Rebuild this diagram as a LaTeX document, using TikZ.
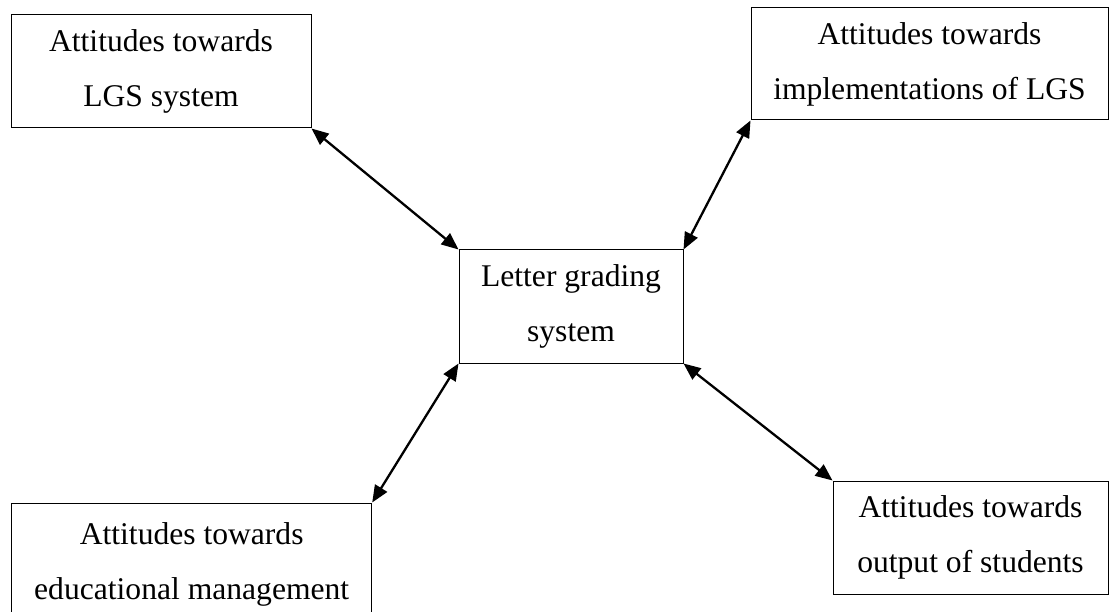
\documentclass[tikz,border=0pt]{standalone}
\usepackage{fontspec}
\setmainfont{Liberation Serif}
\usetikzlibrary{arrows.meta}
\tikzset{
  boxnode/.style={draw=black, line width=1pt, rectangle, inner sep=0pt, align=center,
    font=\fontsize{31.6}{55}\selectfont},
  link/.style={line width=2.3pt, {Triangle[length=17pt,width=14pt]}-{Triangle[length=17pt,width=14pt]}}
}
\begin{document}
\begin{tikzpicture}[x=1pt,y=-1pt]
\useasboundingbox (0,0) rectangle (1110,612);
\node[boxnode, minimum width=300pt, minimum height=113pt] (tl) at (161,71.5) {Attitudes towards\\LGS system};
\node[boxnode, minimum width=357pt, minimum height=112pt] (tr) at (929.5,64) {Attitudes towards\\implementations of LGS};
\node[boxnode, minimum width=224pt, minimum height=113pt] (c) at (571,306.5) {Letter grading\\system};
\node[boxnode, minimum width=360pt, minimum height=122pt] (bl) at (191.7,564) {Attitudes towards\\educational management};
\node[boxnode, minimum width=275pt, minimum height=113pt] (br) at (970.5,537.5) {Attitudes towards\\output of students};
\draw[link] (tl.south east) -- (c.north west);
\draw[link] (tr.south west) -- (c.north east);
\draw[link] (c.south west) -- (bl.north east);
\draw[link] (c.south east) -- (br.north west);
\end{tikzpicture}
\end{document}
